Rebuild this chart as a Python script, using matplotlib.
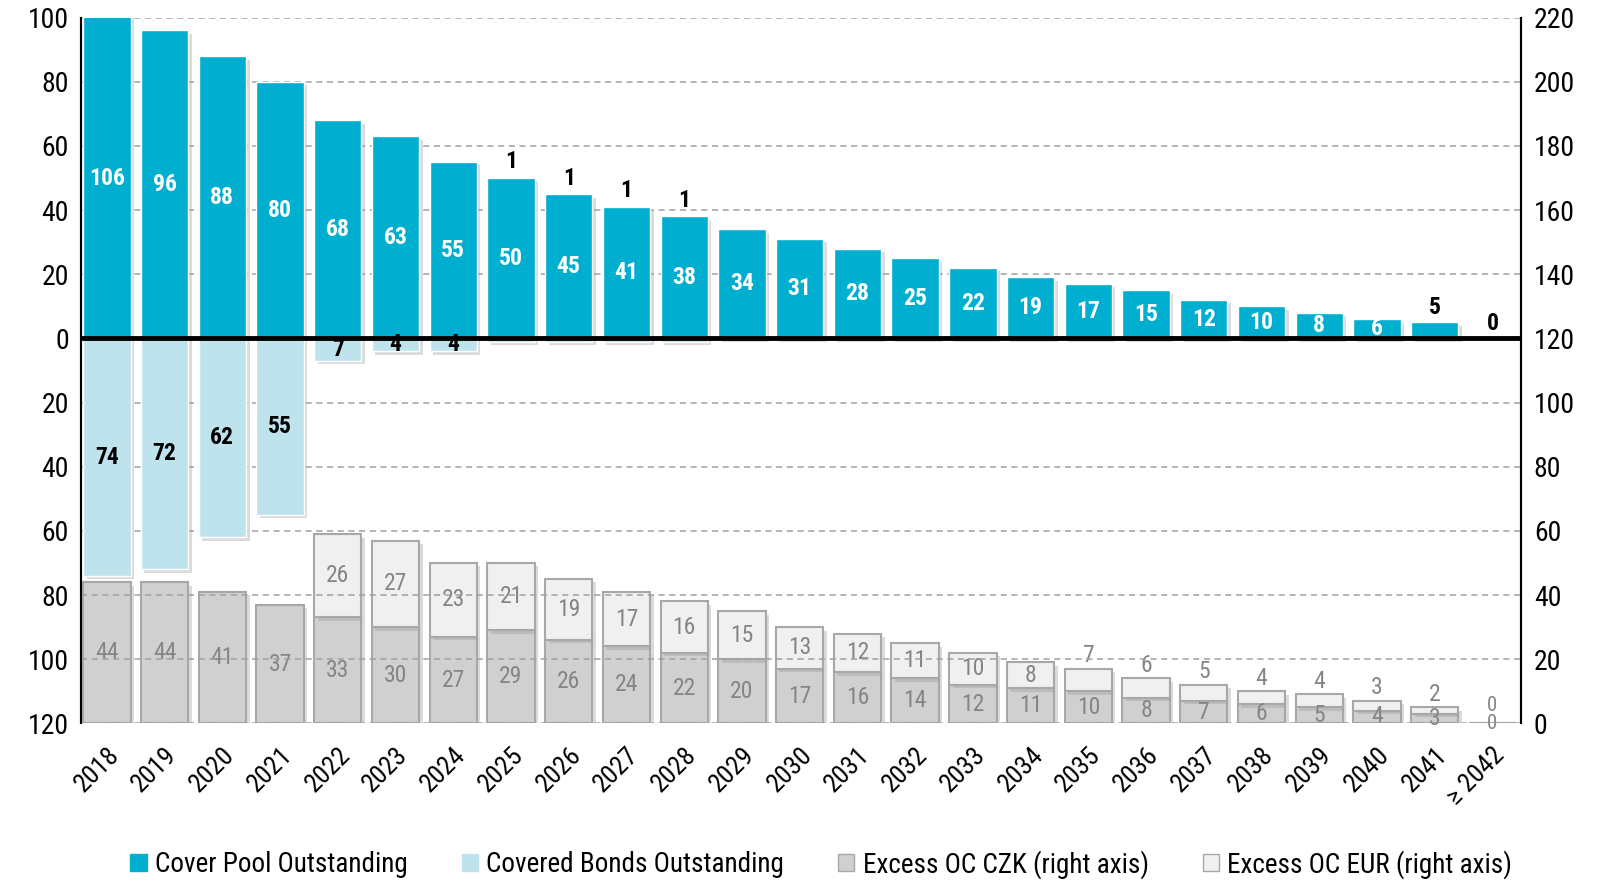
import matplotlib
matplotlib.use("Agg")
import matplotlib.pyplot as plt
import matplotlib.patheffects as pe
from matplotlib import font_manager
from matplotlib.patches import Patch
import numpy as np

# prefer a narrow font if one is installed
installed = {f.name for f in font_manager.fontManager.ttflist}
narrow = [n for n in ("Roboto Condensed", "Liberation Sans Narrow", "Open Sans Condensed") if n in installed]
plt.rcParams['font.family'] = narrow + ['Open Sans', 'DejaVu Sans']
NARROW = bool(narrow)

# data (bn)
years = ["2018", "2019", "2020", "2021", "2022", "2023", "2024", "2025", "2026",
         "2027", "2028", "2029", "2030", "2031", "2032", "2033", "2034", "2035",
         "2036", "2037", "2038", "2039", "2040", "2041", "\u2265 2042"]
cover_pool = [106, 96, 88, 80, 68, 63, 55, 50, 45, 41, 38, 34, 31, 28, 25, 22,
              19, 17, 15, 12, 10, 8, 6, 5, 0]
covered_bonds = [74, 72, 62, 55, 7, 4, 4, 1, 1, 1, 1, 0, 0, 0, 0, 0,
                 0, 0, 0, 0, 0, 0, 0, 0, 0]
oc_czk = [44, 44, 41, 37, 33, 30, 27, 29, 26, 24, 22, 20, 17, 16, 14, 12,
          11, 10, 8, 7, 6, 5, 4, 3, 0]
oc_eur = [0, 0, 0, 0, 26, 27, 23, 21, 19, 17, 16, 15, 13, 12, 11, 10,
          8, 7, 6, 5, 4, 4, 3, 2, 0]

BLUE = "#00aecf"
LIGHT = "#bee3ec"
CZK = "#d0d0d0"
EUR = "#f0f0f0"
EDGE = "#a8a8a8"
TXT_GRAY = "#858585"

fs_tick = 20 if NARROW else 18
fs_lab = 17 if NARROW else 15
fs_leg = 19.5 if NARROW else 17

x = np.arange(len(years))
w = 0.82
shadow = [pe.SimplePatchShadow(offset=(2.5, -2.5), shadow_rgbFace="#999999", alpha=0.35), pe.Normal()]

fig = plt.figure(figsize=(15.98, 8.80), dpi=100)
ax = fig.add_axes([0.051, 0.178, 0.901, 0.802])
ax2 = ax.twinx()

ax.set_ylim(-120, 100)
ax2.set_ylim(0, 220)
ax.set_xlim(-0.44, len(years) - 0.5)

ax.set_yticks(np.arange(-120, 101, 20))
ax.set_yticklabels([str(abs(v)) for v in range(-120, 101, 20)])
ax2.set_yticks(np.arange(0, 221, 20))
for a in (ax, ax2):
    a.tick_params(axis="y", length=0, labelsize=fs_tick, pad=9)
ax.grid(axis="y", color="#a0a0a0", linestyle=(0, (4, 3)), linewidth=1.1)
ax.set_axisbelow(True)

for a in (ax, ax2):
    for s in ("top", "bottom"):
        a.spines[s].set_visible(False)
    a.spines["left"].set_linewidth(1.5)
    a.spines["right"].set_linewidth(1.5)

# primary axis bars
cp = ax.bar(x, cover_pool, w, color=BLUE, edgecolor="white", linewidth=1, zorder=3)
cb = ax.bar(x, [-v for v in covered_bonds], w, color=LIGHT, edgecolor="white", linewidth=1, zorder=3)
for b in list(cp) + list(cb):
    b.set_path_effects(shadow)
ax.axhline(0, color="black", linewidth=3.5, zorder=5)

# secondary axis bars (Excess OC)
bc = ax2.bar(x, oc_czk, w, color=CZK, edgecolor=EDGE, linewidth=1.5, zorder=3)
be = ax2.bar(x, oc_eur, w, bottom=oc_czk, color=EUR, edgecolor=EDGE, linewidth=1.5, zorder=3)
for b in list(bc) + list(be):
    if b.get_height() > 0:
        b.set_path_effects(shadow)
ax2.set_zorder(ax.get_zorder() - 1)
ax.patch.set_visible(False)

lab_kw = dict(ha="center", va="center", fontsize=fs_lab)
for i in range(len(years)):
    c = cover_pool[i]
    if c > 5:
        ax.text(i, min(c, 100) / 2, str(c), color="white", fontweight="semibold", zorder=6, **lab_kw)
    else:
        ax.text(i, c + 1, str(c), color="black", fontweight="bold", zorder=6,
                ha="center", va="bottom", fontsize=fs_lab)
    cbv = covered_bonds[i]
    if cbv >= 4:
        ax.text(i, -cbv / 2, str(cbv), color="black", fontweight="bold", zorder=6, **lab_kw)
    elif cbv > 0:
        ax.text(i, c + 5, str(cbv), color="black", fontweight="bold", zorder=6, **lab_kw)

    z = oc_czk[i]
    e = oc_eur[i]
    if z > 0:
        ax2.text(i, z / 2, str(z), color=TXT_GRAY, zorder=6, **lab_kw)
    else:
        ax2.text(i, 0, str(z), color=TXT_GRAY, zorder=6, ha="center", va="center",
                 fontsize=fs_lab - 2)
    if e >= 8:
        ax2.text(i, z + e / 2, str(e), color=TXT_GRAY, zorder=6, **lab_kw)
    elif e > 0:
        ax2.text(i, z + e + 0.5, str(e), color=TXT_GRAY, zorder=6,
                 ha="center", va="bottom", fontsize=fs_lab)
    elif z == 0:
        ax2.text(i, 2.5, str(e), color=TXT_GRAY, zorder=6,
                 ha="center", va="bottom", fontsize=fs_lab - 2)

ax.set_xticks(x)
ax.set_xticklabels(years, rotation=45, ha="right", rotation_mode="anchor", fontsize=fs_tick - 1)
ax.tick_params(axis="x", length=0, pad=14)

handles = [Patch(facecolor=BLUE, edgecolor=BLUE),
           Patch(facecolor=LIGHT, edgecolor=LIGHT),
           Patch(facecolor=CZK, edgecolor=EDGE),
           Patch(facecolor=EUR, edgecolor=EDGE)]
labels = ["Cover Pool Outstanding", "Covered Bonds Outstanding",
          "Excess OC CZK (right axis)", "Excess OC EUR (right axis)"]
fig.legend(handles, labels, loc="center", bbox_to_anchor=(0.514, 0.018), ncol=4,
           frameon=False, fontsize=fs_leg, handlelength=0.6, handleheight=0.6,
           handletextpad=0.3, columnspacing=2.0)

fig.savefig("out.png", dpi=100)
